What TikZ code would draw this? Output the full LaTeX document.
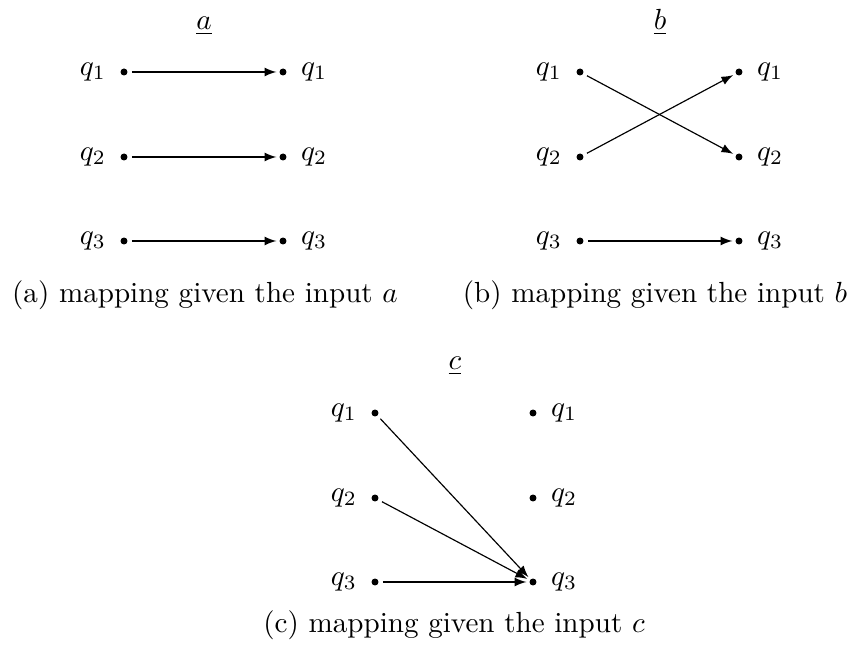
\documentclass[tikz,border=0pt]{standalone}
\usetikzlibrary{arrows}
\begin{document}
\begin{tikzpicture}[x=0.3436pt,y=-0.3436pt,
  st/.style={circle,fill,inner sep=0pt,minimum size=2.4pt},
  every label/.style={inner sep=0pt},
  label distance=4.6pt,
  map/.style={-latex, shorten <=1.3pt, shorten >=0.9pt, line width=0.4pt},
  ttl/.style={anchor=base,inner sep=0pt},
  captxt/.style={anchor=base,inner sep=0pt}]
\useasboundingbox (0,0) rectangle (855,654);
% panel a
\node[ttl] (ta) at (204,29.5) {\underline{$a$}};
\node[st,label=left:$q_1$] (aL1) at (124,72) {};
\node[st,label=left:$q_2$] (aL2) at (124,157) {};
\node[st,label=left:$q_3$] (aL3) at (124,241) {};
\node[st,label=right:$q_1$] (aR1) at (283,72) {};
\node[st,label=right:$q_2$] (aR2) at (283,157) {};
\node[st,label=right:$q_3$] (aR3) at (283,241) {};
\draw[map] (aL1) -- (aR1);
\draw[map] (aL2) -- (aR2);
\draw[map] (aL3) -- (aR3);
\node[captxt] (ca) at (205,303) {(a) mapping given the input $a$};
% panel b
\node[ttl] (tb) at (660,29.5) {\underline{$b$}};
\node[st,label=left:$q_1$] (bL1) at (580,72) {};
\node[st,label=left:$q_2$] (bL2) at (580,157) {};
\node[st,label=left:$q_3$] (bL3) at (580,241) {};
\node[st,label=right:$q_1$] (bR1) at (739,72) {};
\node[st,label=right:$q_2$] (bR2) at (739,157) {};
\node[st,label=right:$q_3$] (bR3) at (739,241) {};
\draw[map] (bL1) -- (bR2);
\draw[map] (bL2) -- (bR1);
\draw[map] (bL3) -- (bR3);
\node[captxt] (cb) at (655,303) {(b) mapping given the input $b$};
% panel c
\node[ttl] (tc) at (455,369.5) {\underline{$c$}};
\node[st,label=left:$q_1$] (cL1) at (375,413) {};
\node[st,label=left:$q_2$] (cL2) at (375,498) {};
\node[st,label=left:$q_3$] (cL3) at (375,582) {};
\node[st,label=right:$q_1$] (cR1) at (533,413) {};
\node[st,label=right:$q_2$] (cR2) at (533,498) {};
\node[st,label=right:$q_3$] (cR3) at (533,582) {};
\draw[map] (cL1) -- (cR3);
\draw[map] (cL2) -- (cR3);
\draw[map] (cL3) -- (cR3);
\node[captxt] (cc) at (454,633) {(c) mapping given the input $c$};
\end{tikzpicture}
\end{document}
